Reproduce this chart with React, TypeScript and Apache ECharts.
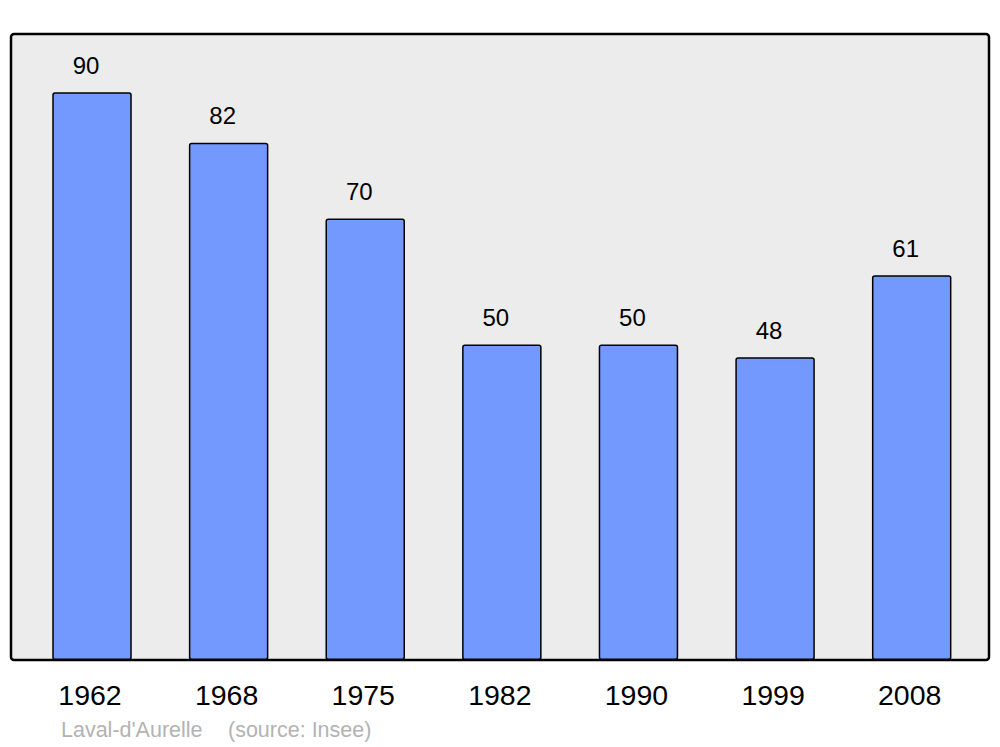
import React, { useEffect, useRef } from "react";
import * as echarts from "echarts";

const categories = ["1962", "1968", "1975", "1982", "1990", "1999", "2008"];
const values = [90, 82, 70, 50, 50, 48, 61];
const placeName = "Laval-d'Aurelle";
const sourceText = "(source: Insee)";

const FONT = "Liberation Sans, Arial, sans-serif";

export default function App() {
  const ref = useRef<HTMLDivElement>(null);
  useEffect(() => {
    if (!ref.current) return;
    const chart = echarts.init(ref.current, null, { renderer: "svg" });
    chart.setOption({
      animation: false,
      backgroundColor: "#ffffff",
      textStyle: { fontFamily: FONT },
      grid: { left: 23.7, right: 20, top: 33, bottom: 87 },
      xAxis: {
        type: "category",
        data: categories,
        axisLine: { show: false },
        axisTick: { show: false },
        axisLabel: {
          fontSize: 28.5,
          color: "#000",
          margin: 20,
          padding: [0, 4, 0, 0],
          fontFamily: FONT,
        },
      },
      yAxis: {
        type: "value",
        min: 0,
        max: 99.4,
        show: false,
        splitLine: { show: false },
      },
      graphic: [
        {
          type: "rect",
          z: -10,
          silent: true,
          shape: { x: 11, y: 34, width: 978, height: 626, r: 3 },
          style: { fill: "#ececec", stroke: "#000", lineWidth: 2.5 },
        },
        {
          type: "text",
          x: 61,
          y: 730,
          style: {
            text: placeName,
            fontSize: 21.5,
            fill: "#b3b3b3",
            verticalAlign: "middle",
            fontFamily: FONT,
          },
        },
        {
          type: "text",
          x: 228,
          y: 730,
          style: {
            text: sourceText,
            fontSize: 21.5,
            fill: "#b3b3b3",
            verticalAlign: "middle",
            fontFamily: FONT,
          },
        },
      ],
      series: [
        {
          type: "bar",
          data: values,
          barWidth: 79.5,
          itemStyle: {
            color: "#7399ff",
            borderColor: "#000",
            borderWidth: 1.5,
            borderRadius: 2,
          },
          label: {
            show: true,
            position: "top",
            distance: 15,
            offset: [-6, 0],
            fontSize: 24,
            color: "#000",
            fontFamily: FONT,
          },
        },
      ],
    });
    return () => chart.dispose();
  }, []);
  return (
    <div
      ref={ref}
      style={{ position: "fixed", left: 0, top: 0, width: 1000, height: 747 }}
    />
  );
}
